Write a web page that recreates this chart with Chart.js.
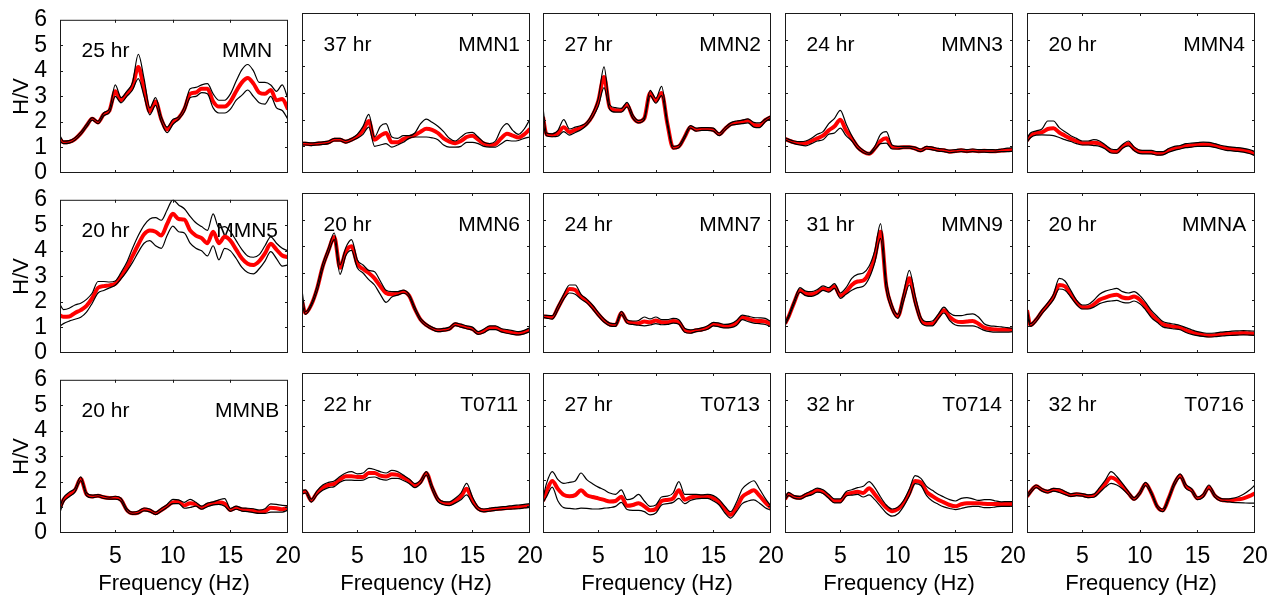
<!DOCTYPE html>
<html>
<head>
<meta charset="utf-8">
<script src="https://cdn.jsdelivr.net/npm/chart.js@4.4.1/dist/chart.umd.min.js"></script>
<style>
  html, body { margin: 0; padding: 0; background: #fff; }
  body { width: 1279px; height: 603px; position: relative; overflow: hidden; }
  canvas { position: absolute; }
</style>
</head>
<body>
<script>
// frequency grid (Hz) shared by every panel
const freq = [0.2,0.5,1,1.5,2,2.5,3,3.5,4,4.5,
              5,5.5,6,6.5,7,7.5,8,8.5,9,9.5,
              10,10.5,11,11.5,12,12.5,13,13.5,14,14.5,
              15,15.5,16,16.5,17,17.5,18,18.5,19,19.5,
              20];

const stations = ['MMN','MMN1','MMN2','MMN3','MMN4','MMN5','MMN6','MMN7','MMN9','MMNA','MMNB','T0711','T0713','T0714','T0716'];
const hours = ['25 hr','37 hr','27 hr','24 hr','20 hr','20 hr','20 hr','24 hr','31 hr','20 hr','20 hr','22 hr','27 hr','32 hr','32 hr'];

const xTickValues = [5, 10, 15, 20];
const yTickValues = [0, 1, 2, 3, 4, 5, 6];

// H/V mean, mean+std, mean-std
const mmnMean = [1.32,1.2,1.22,1.33,1.55,1.85,2.12,1.98,2.3,2.45, 3.2,2.85,3.1,3.4,4.15,3.3,2.4,2.8,2.1,1.7, 2.0,2.15,2.5,3.1,3.15,3.3,3.3,2.8,2.6,2.6, 2.8,3.2,3.55,3.72,3.5,3.15,3.1,3.25,2.85,2.9, 2.5];
const mmnHigh = [1.47,1.25,1.27,1.38,1.6,1.9,2.17,2.03,2.36,2.52, 3.45,2.95,3.2,3.55,4.65,3.7,2.55,2.95,2.2,1.8, 2.1,2.2,2.6,3.3,3.35,3.45,3.5,3.1,2.85,2.85, 3.1,3.6,4.05,4.25,4.0,3.55,3.55,3.45,3.2,3.45, 2.9];
const mmnLow  = [1.25,1.15,1.17,1.28,1.5,1.8,2.07,1.93,2.24,2.38, 3.0,2.75,3.0,3.25,3.7,3.0,2.28,2.65,2.0,1.58, 1.9,2.1,2.4,2.95,3.0,3.15,3.1,2.55,2.35,2.35, 2.5,2.85,3.05,3.25,3.0,2.75,2.7,3.0,2.55,2.45, 2.1];

const mmn1Mean = [1.1,1.1,1.08,1.1,1.12,1.15,1.25,1.25,1.17,1.25, 1.37,1.6,1.95,1.25,1.4,1.5,1.15,1.15,1.27,1.35, 1.42,1.55,1.66,1.62,1.5,1.3,1.18,1.12,1.2,1.35, 1.4,1.25,1.1,1.05,1.08,1.3,1.47,1.4,1.33,1.45, 1.65];
const mmn1High = [1.15,1.15,1.13,1.15,1.17,1.2,1.3,1.3,1.22,1.3, 1.45,1.75,2.2,1.35,1.75,1.85,1.35,1.3,1.4,1.4, 1.5,1.85,2.02,1.9,1.75,1.55,1.3,1.2,1.35,1.5, 1.52,1.35,1.15,1.1,1.2,1.65,1.85,1.6,1.45,1.65, 2.02];
const mmn1Low  = [1.05,1.05,1.03,1.05,1.07,1.1,1.2,1.2,1.12,1.2, 1.3,1.45,1.72,1.0,1.05,1.1,0.97,1.05,1.15,1.3, 1.35,1.35,1.35,1.32,1.25,1.05,0.97,0.97,1.0,1.15, 1.15,1.1,1.0,0.97,0.97,1.1,1.22,1.2,1.22,1.3, 1.35];

const mmn2Mean = [2.1,1.45,1.42,1.5,1.72,1.53,1.62,1.7,1.85,2.15, 2.7,3.6,2.45,2.35,2.35,2.55,2.1,1.92,2.05,3.0, 2.7,3.0,1.85,0.95,1.0,1.35,1.72,1.62,1.65,1.65, 1.62,1.45,1.65,1.83,1.88,1.92,1.97,1.8,1.78,1.98, 2.1];
const mmn2High = [2.45,1.5,1.47,1.6,2.0,1.65,1.72,1.78,1.9,2.25, 2.8,3.98,2.55,2.45,2.42,2.65,2.18,1.97,2.1,3.1, 2.8,3.25,1.95,1.0,1.05,1.4,1.78,1.68,1.7,1.7, 1.68,1.5,1.7,1.88,1.95,1.98,2.03,1.9,1.88,2.02, 2.15];
const mmn2Low  = [1.85,1.4,1.36,1.38,1.55,1.42,1.52,1.62,1.8,2.08, 2.5,3.2,2.38,2.28,2.28,2.48,2.05,1.88,2.0,2.9, 2.62,2.9,1.78,0.9,0.95,1.3,1.68,1.57,1.6,1.6, 1.57,1.4,1.6,1.78,1.82,1.85,1.88,1.72,1.7,1.92, 2.05];

const mmn3Mean = [1.28,1.22,1.15,1.12,1.12,1.2,1.3,1.4,1.6,1.75, 2.0,1.6,1.3,0.98,0.8,0.72,0.92,1.2,1.3,0.97, 0.95,0.97,0.97,0.92,0.85,0.95,0.92,0.87,0.85,0.8, 0.82,0.85,0.82,0.84,0.82,0.83,0.82,0.82,0.84,0.86, 0.87];
const mmn3High = [1.32,1.27,1.2,1.18,1.2,1.3,1.45,1.55,1.85,2.05, 2.35,1.85,1.4,1.05,0.85,0.75,1.0,1.45,1.55,1.05, 1.0,1.0,1.0,0.97,0.9,1.0,0.97,0.92,0.9,0.86, 0.88,0.9,0.88,0.9,0.88,0.88,0.88,0.87,0.9,0.93, 0.95];
const mmn3Low  = [1.25,1.18,1.1,1.05,1.02,1.1,1.2,1.25,1.45,1.5, 1.68,1.4,1.2,0.92,0.76,0.7,0.88,1.1,1.12,0.9, 0.9,0.93,0.93,0.87,0.8,0.9,0.87,0.82,0.8,0.76, 0.78,0.8,0.78,0.8,0.78,0.78,0.77,0.78,0.8,0.8, 0.82];

const mmn4Mean = [1.22,1.4,1.5,1.53,1.65,1.68,1.52,1.4,1.28,1.2, 1.12,1.12,1.13,1.1,0.97,0.82,0.8,1.0,1.1,0.9, 0.8,0.79,0.78,0.73,0.74,0.85,0.92,0.96,1.02,1.04, 1.07,1.08,1.07,1.03,0.97,0.92,0.9,0.88,0.85,0.8, 0.72];
const mmn4High = [1.3,1.5,1.58,1.65,1.95,1.95,1.7,1.55,1.4,1.3, 1.2,1.2,1.25,1.2,1.05,0.9,0.88,1.07,1.2,0.98, 0.86,0.85,0.85,0.8,0.8,0.92,1.0,1.03,1.1,1.12, 1.14,1.16,1.15,1.1,1.04,1.0,0.97,0.95,0.92,0.88, 0.8];
const mmn4Low  = [1.15,1.32,1.42,1.43,1.42,1.4,1.33,1.25,1.18,1.1, 1.05,1.05,1.03,1.0,0.9,0.75,0.74,0.93,1.02,0.84, 0.73,0.72,0.72,0.67,0.68,0.78,0.85,0.9,0.95,0.97, 1.0,1.0,1.0,0.96,0.9,0.85,0.83,0.81,0.78,0.73, 0.65];

const mmn5Mean = [1.47,1.42,1.43,1.57,1.68,1.85,2.15,2.55,2.62,2.65, 2.72,3.0,3.35,3.8,4.25,4.65,4.8,4.75,4.6,5.05, 5.45,5.25,5.22,4.8,4.6,4.5,4.3,4.75,4.3,4.55, 4.4,4.05,3.7,3.5,3.45,3.6,3.9,4.28,4.05,3.82, 3.75];
const mmn5High = [1.9,1.7,1.75,1.88,1.95,2.1,2.35,2.8,2.8,2.78, 2.82,3.15,3.55,4.1,4.6,5.0,5.25,5.3,5.2,5.6, 6.0,5.8,5.65,5.35,5.1,4.95,4.8,5.45,4.9,4.95, 4.75,4.4,4.05,3.8,3.75,3.85,4.2,4.55,4.3,4.1, 4.0];
const mmn5Low  = [1.05,1.15,1.25,1.32,1.4,1.6,1.95,2.35,2.45,2.55, 2.65,2.9,3.2,3.55,3.95,4.3,4.4,4.2,4.1,4.6, 4.97,4.75,4.7,4.3,4.1,4.0,3.8,4.2,3.65,4.1, 4.0,3.7,3.35,3.15,3.1,3.3,3.6,3.97,3.7,3.4, 3.45];

const mmn6Mean = [1.95,1.5,1.8,2.4,3.25,3.85,4.35,3.2,3.8,4.0, 3.35,3.15,3.0,2.8,2.5,2.25,2.2,2.23,2.3,2.15, 1.65,1.25,1.05,0.92,0.85,0.87,0.91,1.08,1.02,0.96, 0.9,0.75,0.82,0.95,0.95,0.85,0.8,0.76,0.73,0.78, 0.87];
const mmn6High = [2.35,1.55,1.85,2.5,3.35,3.95,4.5,3.3,3.95,4.25, 3.5,3.3,3.1,3.05,2.7,2.35,2.3,2.3,2.36,2.2, 1.72,1.3,1.1,0.97,0.9,0.92,0.97,1.13,1.08,1.02, 0.97,0.8,0.9,1.02,1.02,0.92,0.88,0.84,0.8,0.85, 0.95];
const mmn6Low  = [1.85,1.45,1.75,2.3,3.15,3.75,4.25,2.95,3.65,3.85, 3.2,3.0,2.75,2.55,2.2,1.9,2.1,2.17,2.24,2.1, 1.6,1.2,1.0,0.88,0.8,0.82,0.86,1.03,0.97,0.91, 0.85,0.7,0.76,0.88,0.88,0.79,0.74,0.7,0.68,0.72, 0.8];

const mmn7Mean = [1.37,1.36,1.33,1.7,2.1,2.4,2.36,2.12,1.95,1.72, 1.45,1.22,1.07,1.05,1.5,1.18,1.13,1.12,1.18,1.15, 1.22,1.15,1.15,1.2,1.15,0.85,0.8,0.85,0.88,0.95, 1.08,1.05,1.0,1.02,1.12,1.33,1.28,1.22,1.2,1.18, 1.07];
const mmn7High = [1.42,1.41,1.4,1.78,2.2,2.55,2.55,2.2,2.02,1.8, 1.52,1.28,1.12,1.1,1.56,1.25,1.2,1.22,1.35,1.28, 1.35,1.25,1.25,1.3,1.25,0.93,0.87,0.9,0.94,1.02, 1.15,1.12,1.07,1.1,1.22,1.42,1.38,1.33,1.32,1.3, 1.17];
const mmn7Low  = [1.33,1.31,1.27,1.62,2.02,2.25,2.2,2.02,1.88,1.65, 1.38,1.15,1.02,1.0,1.44,1.12,1.07,1.04,1.02,1.05, 1.1,1.06,1.07,1.12,1.08,0.78,0.74,0.8,0.83,0.89, 1.02,0.98,0.94,0.95,1.03,1.25,1.18,1.12,1.1,1.07, 0.98];

const mmn9Mean = [1.1,1.35,1.9,2.35,2.22,2.2,2.28,2.42,2.35,2.5, 2.15,2.3,2.55,2.68,2.72,3.0,3.6,4.55,2.5,1.7, 1.38,2.1,2.8,1.95,1.25,1.1,1.1,1.35,1.6,1.35, 1.2,1.16,1.18,1.2,1.1,0.95,0.9,0.88,0.87,0.87, 0.87];
const mmn9High = [1.15,1.4,1.97,2.45,2.32,2.3,2.38,2.52,2.45,2.6, 2.25,2.45,2.8,2.95,3.0,3.25,3.85,4.85,2.7,1.8, 1.45,2.25,3.1,2.15,1.35,1.18,1.2,1.45,1.72,1.5, 1.4,1.4,1.45,1.47,1.35,1.1,1.02,1.0,0.98,0.95, 0.93];
const mmn9Low  = [1.05,1.3,1.85,2.28,2.15,2.12,2.2,2.35,2.28,2.42, 2.05,2.2,2.35,2.45,2.5,2.8,3.4,4.3,2.35,1.6, 1.3,1.95,2.55,1.8,1.15,1.02,1.02,1.28,1.5,1.22, 1.05,1.02,1.02,1.02,0.95,0.85,0.8,0.78,0.78,0.78, 0.8];

const mmnaMean = [1.6,1.05,1.25,1.55,1.8,2.1,2.55,2.5,2.2,1.9, 1.72,1.72,1.82,2.0,2.08,2.15,2.18,2.08,2.05,2.12, 2.0,1.75,1.45,1.25,1.08,1.02,0.98,0.95,0.85,0.78, 0.72,0.68,0.66,0.67,0.7,0.72,0.73,0.74,0.75,0.74, 0.73];
const mmnaHigh = [1.7,1.1,1.3,1.62,1.88,2.2,2.8,2.7,2.35,1.98, 1.8,1.82,1.98,2.2,2.32,2.38,2.42,2.3,2.25,2.3, 2.15,1.9,1.6,1.38,1.18,1.12,1.08,1.03,0.95,0.87, 0.8,0.76,0.74,0.75,0.78,0.8,0.82,0.83,0.84,0.83, 0.82];
const mmnaLow  = [1.5,1.0,1.18,1.48,1.72,2.0,2.4,2.35,2.1,1.82, 1.65,1.65,1.72,1.85,1.92,1.95,1.97,1.9,1.88,1.95, 1.85,1.62,1.33,1.15,0.98,0.93,0.9,0.87,0.77,0.7, 0.65,0.62,0.6,0.61,0.63,0.65,0.66,0.67,0.68,0.67, 0.66];

const mmnbMean = [1.0,1.3,1.5,1.68,2.12,1.52,1.43,1.46,1.4,1.37, 1.38,1.3,0.9,0.77,0.8,0.92,0.88,0.77,0.9,1.05, 1.2,1.22,1.08,1.17,1.12,0.99,1.1,1.16,1.2,1.15, 0.9,0.99,0.92,0.9,0.87,0.83,0.85,0.99,0.97,0.93, 0.99];
const mmnbHigh = [1.05,1.38,1.6,1.75,2.2,1.58,1.48,1.5,1.45,1.4, 1.44,1.36,0.95,0.82,0.86,0.98,0.94,0.82,0.97,1.12, 1.32,1.3,1.2,1.32,1.2,1.05,1.17,1.22,1.3,1.35, 0.96,1.05,0.98,0.97,0.95,0.9,0.95,1.14,1.12,1.08, 1.07];
const mmnbLow  = [0.8,1.2,1.42,1.6,2.05,1.46,1.38,1.42,1.35,1.33, 1.33,1.24,0.85,0.73,0.76,0.87,0.83,0.72,0.85,1.0, 1.15,1.15,0.97,1.0,1.05,0.93,1.03,1.1,1.12,1.05, 0.85,0.93,0.86,0.84,0.8,0.77,0.77,0.82,0.82,0.82, 0.9];

const t0711Mean = [1.52,1.56,1.22,1.5,1.7,1.8,1.84,2.0,2.13,2.13, 2.1,2.1,2.25,2.25,2.15,2.12,2.2,2.18,2.08,1.95, 1.78,1.92,2.24,1.7,1.25,1.12,1.1,1.2,1.37,1.66, 1.22,0.92,0.84,0.87,0.9,0.92,0.94,0.96,0.97,1.0, 1.02];
const t0711High = [1.6,1.62,1.27,1.58,1.8,1.9,1.95,2.12,2.25,2.3, 2.22,2.25,2.42,2.38,2.3,2.25,2.35,2.3,2.17,2.03, 1.85,1.98,2.3,1.78,1.32,1.18,1.17,1.3,1.5,1.86, 1.35,0.98,0.9,0.93,0.96,0.98,1.0,1.03,1.05,1.07, 1.1];
const t0711Low  = [1.45,1.5,1.16,1.42,1.6,1.7,1.74,1.9,1.98,1.98, 1.97,1.98,2.08,2.1,2.02,1.98,2.05,2.05,1.97,1.86, 1.7,1.85,2.17,1.62,1.18,1.06,1.03,1.12,1.25,1.43, 1.1,0.86,0.79,0.82,0.85,0.87,0.89,0.9,0.91,0.94, 0.96];

const t0713Mean = [1.2,1.55,1.95,1.65,1.43,1.38,1.42,1.6,1.42,1.35, 1.3,1.24,1.18,1.2,1.36,1.02,1.05,1.12,1.0,0.85, 0.9,1.2,1.24,1.3,1.6,1.25,1.33,1.37,1.37,1.38, 1.3,1.15,0.9,0.68,0.95,1.35,1.5,1.6,1.4,1.15, 0.95];
const t0713High = [1.3,1.85,2.3,2.0,1.86,1.9,1.95,2.25,2.0,1.85, 1.72,1.62,1.5,1.45,1.62,1.25,1.3,1.45,1.2,1.0, 1.05,1.35,1.38,1.5,1.93,1.45,1.45,1.45,1.43,1.45, 1.4,1.25,1.0,0.8,1.15,1.65,1.85,1.96,1.65,1.3, 1.0];
const t0713Low  = [1.15,1.35,1.72,1.2,0.95,0.92,0.9,0.93,0.92,0.9, 0.9,0.93,0.95,1.0,1.15,0.88,0.85,0.85,0.8,0.68, 0.75,1.05,1.1,1.15,1.3,1.1,1.22,1.28,1.3,1.3, 1.2,1.05,0.75,0.56,0.8,1.1,1.2,1.24,1.12,0.95, 0.85];

const t0714Mean = [1.27,1.45,1.35,1.32,1.42,1.5,1.6,1.55,1.37,1.2, 1.2,1.45,1.5,1.55,1.5,1.68,1.45,1.18,0.95,0.82, 0.9,1.12,1.5,1.95,1.9,1.55,1.38,1.25,1.15,1.05, 1.0,1.08,1.12,1.12,1.12,1.1,1.09,1.09,1.09,1.09, 1.09];
const t0714High = [1.32,1.52,1.4,1.37,1.48,1.58,1.68,1.62,1.45,1.28, 1.28,1.55,1.62,1.7,1.75,1.93,1.7,1.35,1.05,0.9, 0.97,1.22,1.65,2.15,2.05,1.75,1.6,1.45,1.35,1.25, 1.2,1.3,1.33,1.28,1.22,1.25,1.25,1.2,1.17,1.18, 1.18];
const t0714Low  = [1.22,1.4,1.3,1.27,1.37,1.43,1.53,1.48,1.3,1.13, 1.13,1.38,1.42,1.45,1.35,1.43,1.25,1.0,0.75,0.63, 0.72,1.0,1.4,1.85,1.78,1.4,1.2,1.08,0.98,0.92, 0.88,0.92,0.97,1.0,1.0,0.95,0.95,0.98,1.0,1.0, 1.0];

const t0716Mean = [1.37,1.55,1.75,1.62,1.55,1.62,1.6,1.5,1.42,1.45, 1.43,1.38,1.4,1.6,1.85,2.08,1.98,1.76,1.5,1.28, 1.5,1.84,1.5,1.0,0.85,1.3,1.85,2.15,1.74,1.6, 1.3,1.4,1.72,1.4,1.25,1.22,1.23,1.26,1.3,1.38, 1.49];
const t0716High = [1.42,1.6,1.8,1.67,1.6,1.67,1.66,1.56,1.47,1.5, 1.48,1.43,1.46,1.7,1.98,2.3,2.12,1.85,1.56,1.33, 1.55,1.9,1.55,1.05,0.9,1.35,1.92,2.22,1.82,1.66, 1.35,1.47,1.8,1.46,1.3,1.28,1.3,1.35,1.45,1.6, 1.8];
const t0716Low  = [1.33,1.5,1.7,1.57,1.5,1.57,1.52,1.44,1.37,1.4, 1.38,1.33,1.34,1.52,1.72,1.86,1.8,1.65,1.44,1.23, 1.45,1.78,1.45,0.96,0.8,1.25,1.78,2.08,1.67,1.54, 1.25,1.34,1.65,1.35,1.2,1.18,1.15,1.14,1.13,1.12, 1.12];

const means = [mmnMean, mmn1Mean, mmn2Mean, mmn3Mean, mmn4Mean, mmn5Mean, mmn6Mean, mmn7Mean, mmn9Mean, mmnaMean, mmnbMean, t0711Mean, t0713Mean, t0714Mean, t0716Mean];
const highs = [mmnHigh, mmn1High, mmn2High, mmn3High, mmn4High, mmn5High, mmn6High, mmn7High, mmn9High, mmnaHigh, mmnbHigh, t0711High, t0713High, t0714High, t0716High];
const lows  = [mmnLow, mmn1Low, mmn2Low, mmn3Low, mmn4Low, mmn5Low, mmn6Low, mmn7Low, mmn9Low, mmnaLow, mmnbLow, t0711Low, t0713Low, t0714Low, t0716Low];

const SANS = '"Liberation Sans", Arial, Helvetica, sans-serif';
Chart.defaults.font.family = SANS;
Chart.defaults.color = '#000';

// layout of the 3 x 5 grid
const plotLeft = [60, 302, 543, 785, 1027];
const plotTop = [13, 193, 373];
const plotW = 228, plotH = 160;
const PAD_L = 60, PAD_T = 20, PAD_R = 30, PAD_B = 75;

const frameTicks = {
  id: 'frameTicks',
  afterDatasetsDraw(chart) {
    const {ctx, chartArea: a, scales: {x, y}} = chart;
    ctx.save();
    ctx.strokeStyle = '#1a1a1a';
    ctx.lineWidth = 1;
    ctx.beginPath();
    [5, 10, 15].forEach(v => {
      const px = Math.round(x.getPixelForValue(v)) + 0.5;
      ctx.moveTo(px, a.bottom); ctx.lineTo(px, a.bottom - 3);
      ctx.moveTo(px, a.top); ctx.lineTo(px, a.top + 3);
    });
    [1, 2, 3, 4, 5].forEach(v => {
      const py = Math.round(y.getPixelForValue(v)) + 0.5;
      ctx.moveTo(a.left, py); ctx.lineTo(a.left + 3, py);
      ctx.moveTo(a.right, py); ctx.lineTo(a.right - 3, py);
    });
    ctx.stroke();
    ctx.strokeRect(a.left + 0.5, a.top + 0.5, a.width - 1, a.height - 1);
    ctx.restore();
  }
};

const panelText = {
  id: 'panelText',
  beforeDatasetsDraw(chart, args, opts) {
    const {ctx, scales: {x, y}} = chart;
    ctx.save();
    ctx.font = '21px ' + SANS;
    ctx.fillStyle = '#000';
    ctx.textBaseline = 'alphabetic';
    ctx.textAlign = 'center';
    ctx.fillText(opts.hours, x.getPixelForValue(4.15), y.getPixelForValue(4.56));
    ctx.fillText(opts.name, x.getPixelForValue(16.45), y.getPixelForValue(4.56));
    ctx.restore();
  }
};

const toXY = arr => arr.map((v, k) => ({x: freq[k], y: v}));

stations.forEach((name, i) => {
  const row = Math.floor(i / 5), col = i % 5;
  const w = PAD_L + plotW + PAD_R, h = PAD_T + plotH + PAD_B;
  const cv = document.createElement('canvas');
  cv.width = w; cv.height = h;
  cv.style.width = w + 'px'; cv.style.height = h + 'px';
  cv.style.left = (plotLeft[col] - PAD_L) + 'px';
  cv.style.top = (plotTop[row] - PAD_T) + 'px';
  document.body.appendChild(cv);

  new Chart(cv, {
    type: 'line',
    data: {
      datasets: [
        {data: toXY(highs[i]), borderColor: '#000', borderWidth: 1.2, order: 0},
        {data: toXY(lows[i]), borderColor: '#000', borderWidth: 1.2, order: 0},
        {data: toXY(means[i]), borderColor: '#ff0000', borderWidth: 4, order: 1}
      ]
    },
    options: {
      responsive: false,
      animation: false,
      events: [],
      layout: {padding: {left: 0, top: PAD_T, right: PAD_R, bottom: 0}},
      elements: {
        point: {radius: 0},
        line: {cubicInterpolationMode: 'monotone', fill: false}
      },
      plugins: {
        legend: {display: false},
        tooltip: {enabled: false},
        panelText: {name: name, hours: hours[i]}
      },
      scales: {
        x: {
          type: 'linear', min: 0.2, max: 20,
          afterBuildTicks: s => { s.ticks = xTickValues.map(v => ({value: v})); },
          afterFit: s => { s.height = PAD_B; },
          grid: {display: false, drawTicks: false},
          border: {display: false},
          ticks: {display: row === 2, padding: 10, font: {size: 23}, maxRotation: 0, autoSkip: false},
          title: {display: row === 2, text: 'Frequency (Hz)', font: {size: 22}, padding: {top: 0, bottom: 11}}
        },
        y: {
          type: 'linear', min: 0, max: 6,
          afterBuildTicks: s => { s.ticks = yTickValues.map(v => ({value: v})); },
          afterFit: s => { s.width = PAD_L; },
          grid: {display: false, drawTicks: false},
          border: {display: false},
          ticks: {display: col === 0, padding: 13, font: {size: 23}, autoSkip: false},
          title: {display: col === 0, text: 'H/V', font: {size: 22}, padding: {top: 9, bottom: 0}}
        }
      }
    },
    plugins: [frameTicks, panelText]
  });
});
</script>
</body>
</html>
